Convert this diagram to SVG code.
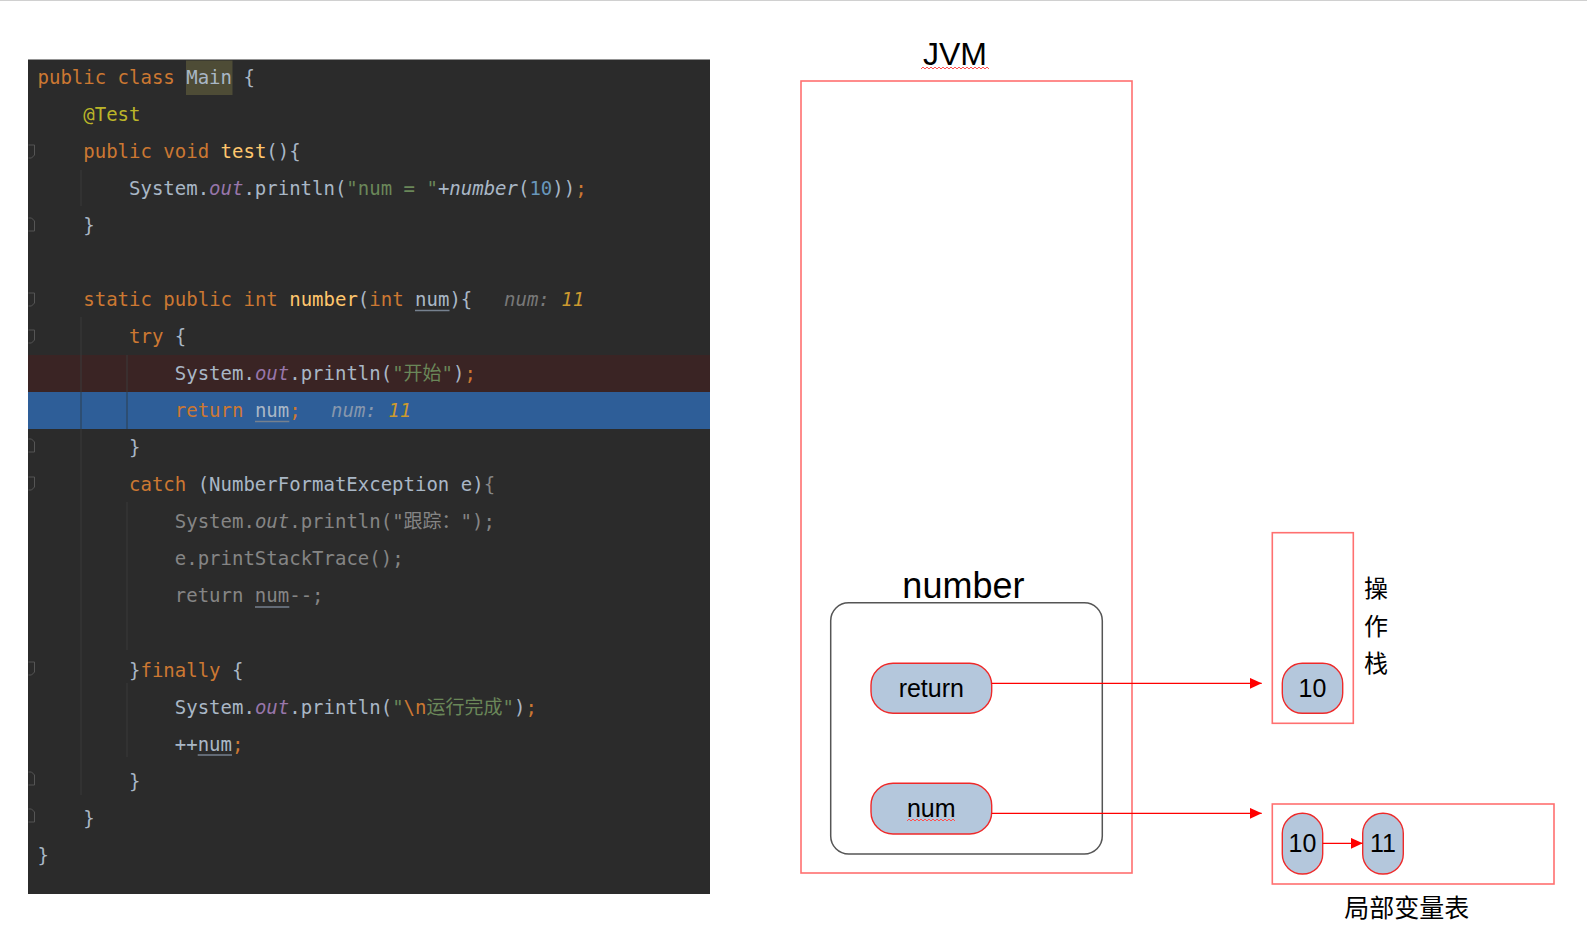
<svg xmlns="http://www.w3.org/2000/svg" width="1587" height="947" viewBox="0 0 1587 947">
<style>
.c{font-family:"DejaVu Sans Mono","Noto Sans CJK SC",monospace;font-size:19px;fill:#a9b7c6;white-space:pre}
.k{fill:#cc7832}.f{fill:#ffc66d}.s{fill:#6a8759}.n{fill:#6897bb}
.o{fill:#9876aa;font-style:italic}.i{font-style:italic}.a{fill:#bbb529}
.h{fill:#787878;font-style:italic}.hb{fill:#8797ad;font-style:italic}.hv{fill:#cc9a2f;font-style:italic}
.g{fill:#858585}
.ul{stroke:#76818f;stroke-width:1.5}
.guide{stroke:#3a3a3a;stroke-width:1}
.fold{fill:none;stroke:#555;stroke-width:1}
.t{font-family:"Liberation Sans",Arial,"Noto Sans CJK SC",sans-serif;fill:#000}
.frame{fill:none;stroke:#ff7070;stroke-width:1.6}
.pill{fill:#b4c7dc;stroke:#ee2a2a;stroke-width:1.4}
.wire{stroke:#ff0000;stroke-width:1.2;fill:none}
.wavy{stroke:#ff5050;stroke-width:1;fill:none}
</style>
<defs>
<marker id="ah" markerUnits="userSpaceOnUse" markerWidth="13" markerHeight="12" refX="12" refY="5.5" orient="auto">
<path d="M0,0 L12,5.5 L0,11 z" fill="#ff0000"/>
</marker>
</defs>
<line x1="0" y1="0.5" x2="1587" y2="0.5" stroke="#d0d0d0" stroke-width="1"/>

<g id="code">
<rect x="28" y="59.5" width="682" height="834.5" fill="#2b2b2b"/>
<rect x="28" y="355" width="682" height="37" fill="#3a2424"/>
<rect x="28" y="392" width="682" height="37" fill="#2e5e98"/>
<rect x="186" y="60.5" width="46.5" height="34.5" fill="#4e4c36"/>
<g>
<line class="guide" x1="81" y1="170" x2="81" y2="206"/>
<line class="guide" x1="81" y1="317" x2="81" y2="795"/>
<line class="guide" x1="127" y1="355" x2="127" y2="429"/>
<line class="guide" x1="127" y1="502" x2="127" y2="650"/>
<line class="guide" x1="127" y1="683" x2="127" y2="757"/>
<line x1="81" y1="392" x2="81" y2="429" stroke="#27507f"/>
<line x1="127" y1="392" x2="127" y2="429" stroke="#27507f"/>
</g>
<g>
<path class="fold" d="M28.5,145 h6 v10 l-3,3 h-3"/>
<path class="fold" d="M28.5,231 h6 v-10 l-3,-3 h-3"/>
<path class="fold" d="M28.5,293 h6 v10 l-3,3 h-3"/>
<path class="fold" d="M28.5,330 h6 v10 l-3,3 h-3"/>
<path class="fold" d="M28.5,452 h6 v-10 l-3,-3 h-3"/>
<path class="fold" d="M28.5,477 h6 v10 l-3,3 h-3"/>
<path class="fold" d="M28.5,662 h6 v10 l-3,3 h-3"/>
<path class="fold" d="M28.5,785 h6 v-10 l-3,-3 h-3"/>
<path class="fold" d="M28.5,822 h6 v-10 l-3,-3 h-3"/>
</g>
<g>
<line class="ul" x1="415" y1="310.5" x2="449.5" y2="310.5"/>
<line class="ul" x1="255" y1="421.5" x2="289.3" y2="421.5"/>
<line class="ul" x1="255" y1="607" x2="289.3" y2="607"/>
<line class="ul" x1="197.7" y1="755" x2="232" y2="755"/>
</g>
<text class="c" x="37.5" y="83.5"><tspan class="k">public class </tspan>Main {</text>
<text class="c" x="83.3" y="120.6"><tspan class="a">@Test</tspan></text>
<text class="c" x="83.3" y="157.6"><tspan class="k">public void </tspan><tspan class="f">test</tspan>(){</text>
<text class="c" x="129" y="194.7">System.<tspan class="o">out</tspan>.println(<tspan class="s">"num = "</tspan>+<tspan class="i">number</tspan>(<tspan class="n">10</tspan>))<tspan class="k">;</tspan></text>
<text class="c" x="83.3" y="231.7">}</text>
<text class="c" x="83.3" y="305.9"><tspan class="k">static public int </tspan><tspan class="f">number</tspan>(<tspan class="k">int </tspan>num){</text>
<text class="c" x="504" y="305.9"><tspan class="h">num: </tspan><tspan class="hv">11</tspan></text>
<text class="c" x="129" y="342.9"><tspan class="k">try</tspan> {</text>
<text class="c" x="174.8" y="380">System.<tspan class="o">out</tspan>.println(<tspan class="s">"开始"</tspan>)<tspan class="k">;</tspan></text>
<text class="c" x="174.8" y="417"><tspan class="k">return</tspan> num<tspan class="k">;</tspan></text>
<text class="c" x="331" y="417"><tspan class="hb">num: </tspan><tspan class="hv">11</tspan></text>
<text class="c" x="129" y="454.1">}</text>
<text class="c" x="129" y="491.2"><tspan class="k">catch</tspan> (NumberFormatException e)<tspan class="g">{</tspan></text>
<text class="c g" x="174.8" y="528.2">System.<tspan class="i">out</tspan>.println("跟踪：");</text>
<text class="c g" x="174.8" y="565.3">e.printStackTrace();</text>
<text class="c g" x="174.8" y="602.3">return num--;</text>
<text class="c" x="129" y="676.5">}<tspan class="k">finally</tspan> {</text>
<text class="c" x="174.8" y="713.5">System.<tspan class="o">out</tspan>.println(<tspan class="s">"</tspan><tspan class="k">\n</tspan><tspan class="s">运行完成"</tspan>)<tspan class="k">;</tspan></text>
<text class="c" x="174.8" y="750.6">++num<tspan class="k">;</tspan></text>
<text class="c" x="129" y="787.6">}</text>
<text class="c" x="83.3" y="824.7">}</text>
<text class="c" x="37.5" y="861.8">}</text>
</g>

<g id="jvm">
<rect class="frame" x="801" y="81" width="331" height="792"/>
<text class="t" x="955" y="65" font-size="32" text-anchor="middle">JVM</text>
<path class="wavy" d="M921,69 l2,-2 l2,2 l2,-2 l2,2 l2,-2 l2,2 l2,-2 l2,2 l2,-2 l2,2 l2,-2 l2,2 l2,-2 l2,2 l2,-2 l2,2 l2,-2 l2,2 l2,-2 l2,2 l2,-2 l2,2 l2,-2 l2,2 l2,-2 l2,2 l2,-2 l2,2 l2,-2 l2,2 l2,-2 l2,2 l2,-2 l2,2"/>
</g>

<g id="number-frame">
<rect x="830.7" y="602.7" width="271.6" height="251.3" rx="18" fill="none" stroke="#555" stroke-width="1.5"/>
<text class="t" x="963.4" y="598" font-size="36" text-anchor="middle">number</text>
</g>

<g id="return-node">
<rect class="pill" x="871" y="663.3" width="120.7" height="50" rx="22"/>
<text class="t" x="931.3" y="697" font-size="25" text-anchor="middle">return</text>
</g>

<g id="num-node">
<rect class="pill" x="871" y="783.3" width="120.7" height="50.7" rx="22"/>
<text class="t" x="931.3" y="817" font-size="25" text-anchor="middle">num</text>
<path class="wavy" d="M907,821 l2,-2 l2,2 l2,-2 l2,2 l2,-2 l2,2 l2,-2 l2,2 l2,-2 l2,2 l2,-2 l2,2 l2,-2 l2,2 l2,-2 l2,2 l2,-2 l2,2 l2,-2 l2,2 l2,-2 l2,2 l2,-2 l2,2"/>
</g>

<g id="operand-stack">
<rect class="frame" x="1272.3" y="532.7" width="81" height="190.6"/>
<text class="t" x="1364" y="597" font-size="24">操</text>
<text class="t" x="1364" y="634.5" font-size="24">作</text>
<text class="t" x="1364" y="671.5" font-size="24">栈</text>
</g>

<g id="stack-10">
<rect class="pill" x="1282.3" y="663.3" width="60.4" height="50" rx="20"/>
<text class="t" x="1312.5" y="697" font-size="25" text-anchor="middle">10</text>
</g>

<g id="local-vars">
<rect class="frame" x="1272.3" y="804" width="281.7" height="80"/>
<text class="t" x="1406.7" y="917" font-size="25" text-anchor="middle">局部变量表</text>
</g>

<g id="local-10">
<rect class="pill" x="1282.3" y="813.3" width="40.4" height="60.7" rx="20"/>
<text class="t" x="1302.5" y="852" font-size="25" text-anchor="middle">10</text>
</g>

<g id="local-11">
<rect class="pill" x="1362.7" y="813.3" width="40.6" height="60.7" rx="20"/>
<text class="t" x="1383" y="852" font-size="25" text-anchor="middle">11</text>
</g>

<g id="connectors">
<line class="wire" x1="991.7" y1="683.3" x2="1261.7" y2="683.3" marker-end="url(#ah)"/>
<line class="wire" x1="991.7" y1="813.3" x2="1261.7" y2="813.3" marker-end="url(#ah)"/>
<line class="wire" x1="1322.7" y1="843.3" x2="1362.7" y2="843.3" marker-end="url(#ah)"/>
</g>
</svg>
